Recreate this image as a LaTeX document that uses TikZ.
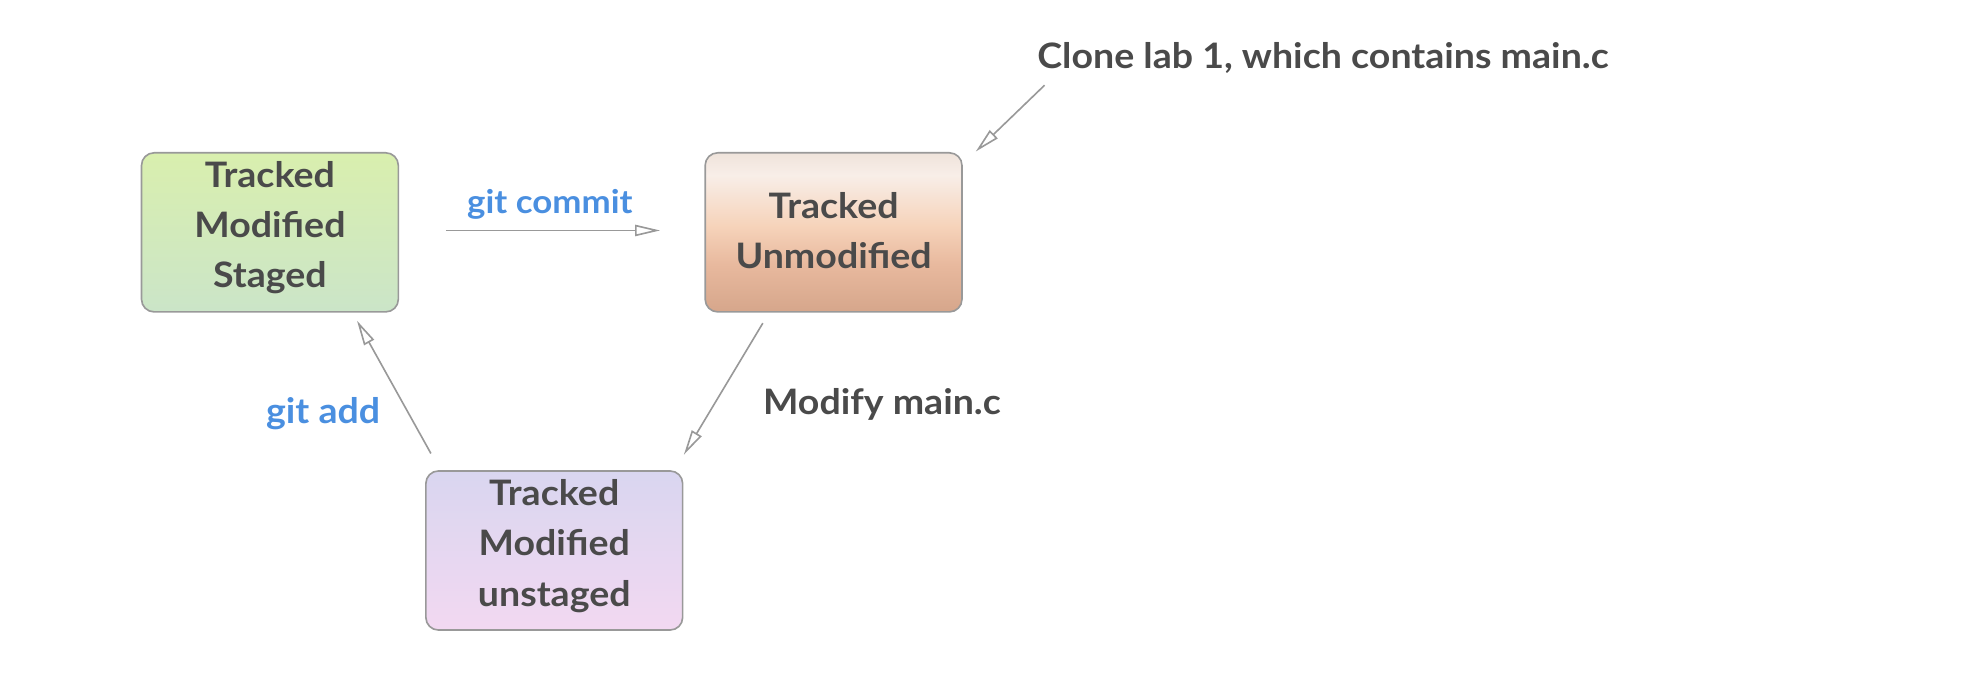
\documentclass[tikz,border=0pt]{standalone}
\usepackage{fontspec}
\setmainfont{Lato}[UprightFont=* Bold, FakeStretch=1.07]
\usetikzlibrary{arrows.meta}
\definecolor{txt}{HTML}{4A4A4A}
\definecolor{lnk}{HTML}{4A8FE0}
\definecolor{edge}{HTML}{999999}
\definecolor{gTop}{HTML}{D9EFAE}
\definecolor{gBot}{HTML}{CBE5C8}
\definecolor{oTop}{HTML}{EFE3DB}
\definecolor{oHi}{HTML}{F8EEE8}
\definecolor{oMid}{HTML}{F6D3BA}
\definecolor{oLow}{HTML}{E8B99E}
\definecolor{oBot}{HTML}{D6A68B}
\definecolor{pTop}{HTML}{D9D6F0}
\definecolor{pBot}{HTML}{F2D8F1}
\pgfdeclareverticalshading{orangeshade}{100bp}{color(0bp)=(oBot); color(25bp)=(oBot); color(40bp)=(oLow); color(52bp)=(oMid); color(68bp)=(oHi); color(75bp)=(oTop); color(100bp)=(oTop)}
\tikzset{
  statebox/.style={draw=edge, line width=1.3pt, rounded corners=10pt, minimum width=205pt, minimum height=127pt, inner sep=0pt},
  statetext/.style={text=txt, font=\fontsize{28}{40}\selectfont, align=center},
  conn/.style={draw=edge, line width=1.3pt, -{Triangle[open, length=20pt, width=9pt, line width=1.3pt]}},
  bluelbl/.style={text=lnk, font=\fontsize{26}{30}\selectfont, inner sep=0pt},
  graylbl/.style={text=txt, font=\fontsize{28}{30}\selectfont, inner sep=0pt},
}
\begin{document}
\begin{tikzpicture}[x=1pt, y=-1pt]
\useasboundingbox (0,0) rectangle (1568,538);
% boxes
\node[statebox, top color=gTop, bottom color=gBot] (staged) at (215.5,185.5) {};
\node[statebox, shading=orangeshade] (unmod) at (665.5,185.5) {};
\node[statebox, top color=pTop, bottom color=pBot] (unstaged) at (442.5,439.5) {};
% texts
\node[statetext] (t1) at (215.5,182) {Tracked\\Modified\\Staged};
\node[statetext] (t2) at (665.5,184) {Tracked\\Unmodified};
\node[statetext] (t3) at (442.5,436) {Tracked\\Modified\\unstaged};
% connector endpoints
\coordinate (c1s) at (356,184);
\coordinate (c1e) at (527,184);
\coordinate (c2s) at (834,68);
\coordinate (c2e) at (779,121);
\coordinate (c3s) at (609,258);
\coordinate (c3e) at (546,363);
\coordinate (c4s) at (344,362);
\coordinate (c4e) at (285,256);
\draw[conn] (c1s) -- (c1e);
\draw[conn] (c2s) -- (c2e);
\draw[conn] (c3s) -- (c3e);
\draw[conn] (c4s) -- (c4e);
% labels
\node[bluelbl] (lcommit) at (439,163) {git commit};
\node[bluelbl, font=\fontsize{28}{30}\selectfont] (ladd) at (258,330) {git add};
\node[graylbl, anchor=west] (lclone) at (828,46) {Clone lab 1, which contains main.c};
\node[graylbl, anchor=west] (lmod) at (609,323) {Modify main.c};
\end{tikzpicture}
\end{document}
